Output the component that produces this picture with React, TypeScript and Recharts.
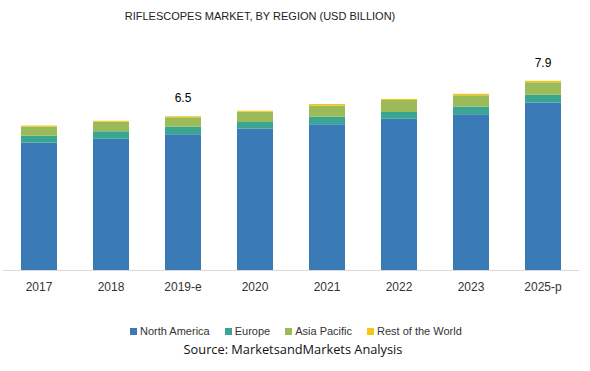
import React from "react";
import { BarChart, Bar, XAxis, YAxis, LabelList } from "recharts";

const categories = ["2017", "2018", "2019-e", "2020", "2021", "2022", "2023", "2025-p"];
const northAmerica = [5.36, 5.52, 5.7, 5.93, 6.12, 6.35, 6.54, 7.03];
const europe = [0.28, 0.31, 0.32, 0.29, 0.32, 0.29, 0.33, 0.33];
const asiaPacific = [0.39, 0.4, 0.4, 0.43, 0.47, 0.5, 0.47, 0.52];
const restOfWorld = [0.04, 0.04, 0.04, 0.04, 0.06, 0.04, 0.06, 0.06];
const totalLabels = ["", "", "6.5", "", "", "", "", "7.9"];

const seriesNames = ["North America", "Europe", "Asia Pacific", "Rest of the World"];
const colors = ["#3a7ab6", "#3aa591", "#9bbb59", "#f5c518"];

const data = categories.map((c, i) => ({
  name: c,
  na: northAmerica[i],
  eu: europe[i],
  ap: asiaPacific[i],
  row: restOfWorld[i],
  label: totalLabels[i],
}));

const TopLabel = (props: any) => {
  const { x, y, width, index } = props;
  const t = totalLabels[index];
  if (!t) return null;
  return (
    <text
      x={x + width / 2}
      y={y - 14}
      textAnchor="middle"
      fontFamily="'Liberation Sans', Arial, sans-serif"
      fontSize={12}
      fill="#000"
    >
      {t}
    </text>
  );
};

export default function App() {
  return (
    <div style={{ position: "absolute", left: 0, top: 0, width: 590, height: 371, background: "#fff" }}>
      <div
        style={{
          position: "absolute",
          left: 0,
          width: 520,
          top: 10,
          textAlign: "center",
          fontFamily: "'Liberation Sans', Arial, sans-serif",
          fontSize: 11,
          color: "#222",
          whiteSpace: "nowrap",
        }}
      >
        RIFLESCOPES MARKET, BY REGION (USD BILLION)
      </div>
      <BarChart
        width={590}
        height={371}
        data={data}
        margin={{ top: 55.5, right: 11, left: 3, bottom: 70.5 }}
        barSize={36}
      >
        <XAxis
          dataKey="name"
          height={30}
          axisLine={{ stroke: "#d9d9d9" }}
          tickLine={false}
          tick={{ fontFamily: "'Liberation Sans', Arial, sans-serif", fontSize: 12, fill: "#333" }}
          tickMargin={6}
        />
        <YAxis hide domain={[0, 9]} />
        <Bar dataKey="na" stackId="a" fill={colors[0]} isAnimationActive={false} />
        <Bar dataKey="eu" stackId="a" fill={colors[1]} isAnimationActive={false} />
        <Bar dataKey="ap" stackId="a" fill={colors[2]} isAnimationActive={false} />
        <Bar dataKey="row" stackId="a" fill={colors[3]} isAnimationActive={false}>
          <LabelList dataKey="label" content={<TopLabel />} />
        </Bar>
      </BarChart>
      <div
        style={{
          position: "absolute",
          top: 325,
          left: 130,
          display: "flex",
          fontFamily: "'Liberation Sans', Arial, sans-serif",
          fontSize: 11,
          color: "#333",
          whiteSpace: "nowrap",
        }}
      >
        {seriesNames.map((n, i) => (
          <div key={n} style={{ display: "flex", alignItems: "center", marginRight: 15 }}>
            <span style={{ display: "inline-block", width: 7, height: 7, background: colors[i], marginRight: 3 }} />
            <span>{n}</span>
          </div>
        ))}
      </div>
      <div
        style={{
          position: "absolute",
          left: 0,
          width: 586,
          top: 340,
          textAlign: "center",
          fontFamily: "'Open Sans', sans-serif",
          fontSize: 12.8,
          color: "#111",
          whiteSpace: "nowrap",
        }}
      >
        Source: MarketsandMarkets Analysis
      </div>
    </div>
  );
}
